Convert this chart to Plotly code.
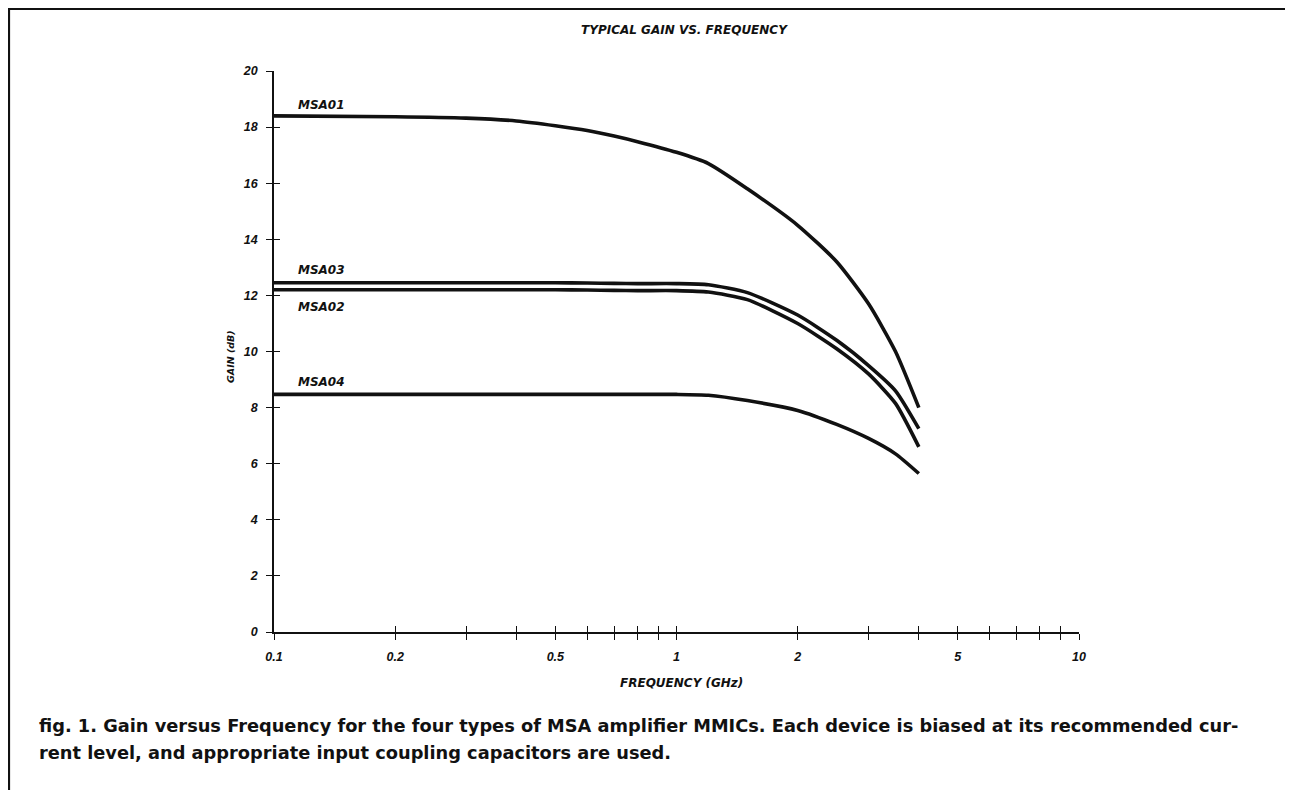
import numpy as np
import plotly.graph_objects as go

# ---- data ----
freq = [0.1, 0.2, 0.3, 0.4, 0.5, 0.6, 0.7, 0.8, 1.0, 1.2, 1.5, 2.0, 2.5, 3.0, 3.5, 4.0]
msa01 = [18.4, 18.37, 18.32, 18.22, 18.05, 17.88, 17.68, 17.48, 17.1, 16.7, 15.8, 14.5, 13.2, 11.7, 10.0, 8.0]
msa03 = [12.45, 12.45, 12.45, 12.45, 12.45, 12.44, 12.43, 12.42, 12.42, 12.38, 12.1, 11.3, 10.4, 9.5, 8.6, 7.25]
msa02 = [12.2, 12.2, 12.2, 12.2, 12.2, 12.19, 12.18, 12.17, 12.17, 12.12, 11.85, 11.0, 10.1, 9.2, 8.15, 6.6]
msa04 = [8.47, 8.47, 8.47, 8.47, 8.47, 8.47, 8.47, 8.47, 8.47, 8.44, 8.25, 7.9, 7.4, 6.9, 6.35, 5.65]

series_names = ["MSA01", "MSA03", "MSA02", "MSA04"]
series_vals = [msa01, msa03, msa02, msa04]
label_freq = [0.1134, 0.1134, 0.1134, 0.1134]
label_gain = [18.8, 12.9, 11.6, 8.9]

x_tickvals = [0.1, 0.2, 0.3, 0.4, 0.5, 0.6, 0.7, 0.8, 0.9, 1, 2, 3, 4, 5, 6, 7, 8, 9, 10]
x_ticktext = ["0.1", "0.2", "", "", "0.5", "", "", "", "", "1", "2", "", "", "5", "", "", "", "", "10"]
y_tickvals = [0, 2, 4, 6, 8, 10, 12, 14, 16, 18, 20]
y_ticktext = [str(v) for v in y_tickvals]

title_text = "TYPICAL GAIN VS. FREQUENCY"
xtitle = "FREQUENCY (GHz)"
ytitle = "GAIN (dB)"
caption1 = "fig. 1. Gain versus Frequency for the four types of MSA amplifier MMICs. Each device is biased at its recommended cur-"
caption2 = "rent level, and appropriate input coupling capacitors are used."

# ---- figure ----
INK = "#111111"
OFF = 8                      # page body margin
W, H = 1293 - OFF, 790 - OFF
PL, PR, PT, PB = 274, 1079, 71, 632   # plot area in page pixels
L, R, T, B = PL - OFF, W - (PR - OFF), PT - OFF, H - (PB - OFF)
pw, ph = PR - PL, PB - PT

def px_x(p):
    return (p - PL) / pw

def px_y(p):
    return (PB - p) / ph

fig = go.Figure()
for name, vals in zip(series_names, series_vals):
    fig.add_trace(go.Scatter(
        x=freq, y=vals, mode="lines", name=name,
        line=dict(color=INK, width=3.6, shape="spline", smoothing=0.6),
        hoverinfo="skip", showlegend=False,
    ))
# invisible trace on the overlay axes (inside half of the crossing ticks)
fig.add_trace(go.Scatter(x=[freq[0]], y=[0], xaxis="x2", yaxis="y2",
                         mode="markers", marker=dict(opacity=0),
                         showlegend=False, hoverinfo="skip"))

tickfont = dict(family="Liberation Sans", size=12.5, color=INK, style="italic", weight="bold")

common_x = dict(type="log", range=[-1, 1], tickmode="array", tickvals=x_tickvals,
                showgrid=False, zeroline=False, showline=True, linecolor=INK,
                linewidth=1.6, tickcolor=INK, tickwidth=1.4, ticklen=6)
common_y = dict(range=[0, 20], tickmode="array", tickvals=y_tickvals,
                showgrid=False, zeroline=False, showline=True, linecolor=INK,
                linewidth=1.6, tickcolor=INK, tickwidth=1.4, ticklen=6)

fig.update_layout(
    width=W, height=H,
    margin=dict(l=L, r=R, t=T, b=B),
    paper_bgcolor="white", plot_bgcolor="white",
    xaxis=dict(**common_x, ticks="outside", ticktext=x_ticktext,
               tickfont=tickfont, ticklabelstandoff=6),
    yaxis=dict(**common_y, ticks="outside", ticktext=y_ticktext,
               tickfont=tickfont, ticklabelstandoff=6),
    xaxis2=dict(**common_x, ticks="inside", showticklabels=False,
                overlaying="x", side="bottom"),
    yaxis2=dict(**common_y, ticks="inside", showticklabels=False,
                overlaying="y", side="left"),
)

lab_font = dict(family="DejaVu Sans", size=12, color=INK, style="italic", weight="bold")
for name, lf, lg in zip(series_names, label_freq, label_gain):
    fig.add_annotation(x=np.log10(lf), y=lg, xref="x", yref="y", text=name,
                       showarrow=False, xanchor="left", yanchor="middle", font=lab_font)

fig.add_annotation(x=px_x(684), y=px_y(30), xref="paper", yref="paper", text=title_text,
                   showarrow=False, xanchor="center", yanchor="middle",
                   font=dict(family="DejaVu Sans", size=12, color=INK, style="italic", weight="bold"))
fig.add_annotation(x=px_x(681), y=px_y(683), xref="paper", yref="paper", text=xtitle,
                   showarrow=False, xanchor="center", yanchor="middle",
                   font=dict(family="DejaVu Sans", size=12, color=INK, style="italic", weight="bold"))
fig.add_annotation(x=px_x(230), y=px_y(357), xref="paper", yref="paper", text=ytitle,
                   showarrow=False, xanchor="center", yanchor="middle", textangle=-90,
                   font=dict(family="DejaVu Sans", size=9.5, color=INK, style="italic", weight="bold"))

cap_font = dict(family="DejaVu Sans", size=17.8, color=INK, weight="bold")
fig.add_annotation(x=px_x(37), y=px_y(725), xref="paper", yref="paper", text=caption1,
                   showarrow=False, xanchor="left", yanchor="middle", font=cap_font)
fig.add_annotation(x=px_x(37), y=px_y(752), xref="paper", yref="paper", text=caption2,
                   showarrow=False, xanchor="left", yanchor="middle", font=cap_font)

# outer frame of the figure
fig.add_shape(type="rect", xref="paper", yref="paper",
              x0=px_x(9), x1=px_x(1287), y0=px_y(805), y1=px_y(9),
              line=dict(color=INK, width=2.2), fillcolor="rgba(0,0,0,0)", layer="below")

fig.write_html("out.html")
